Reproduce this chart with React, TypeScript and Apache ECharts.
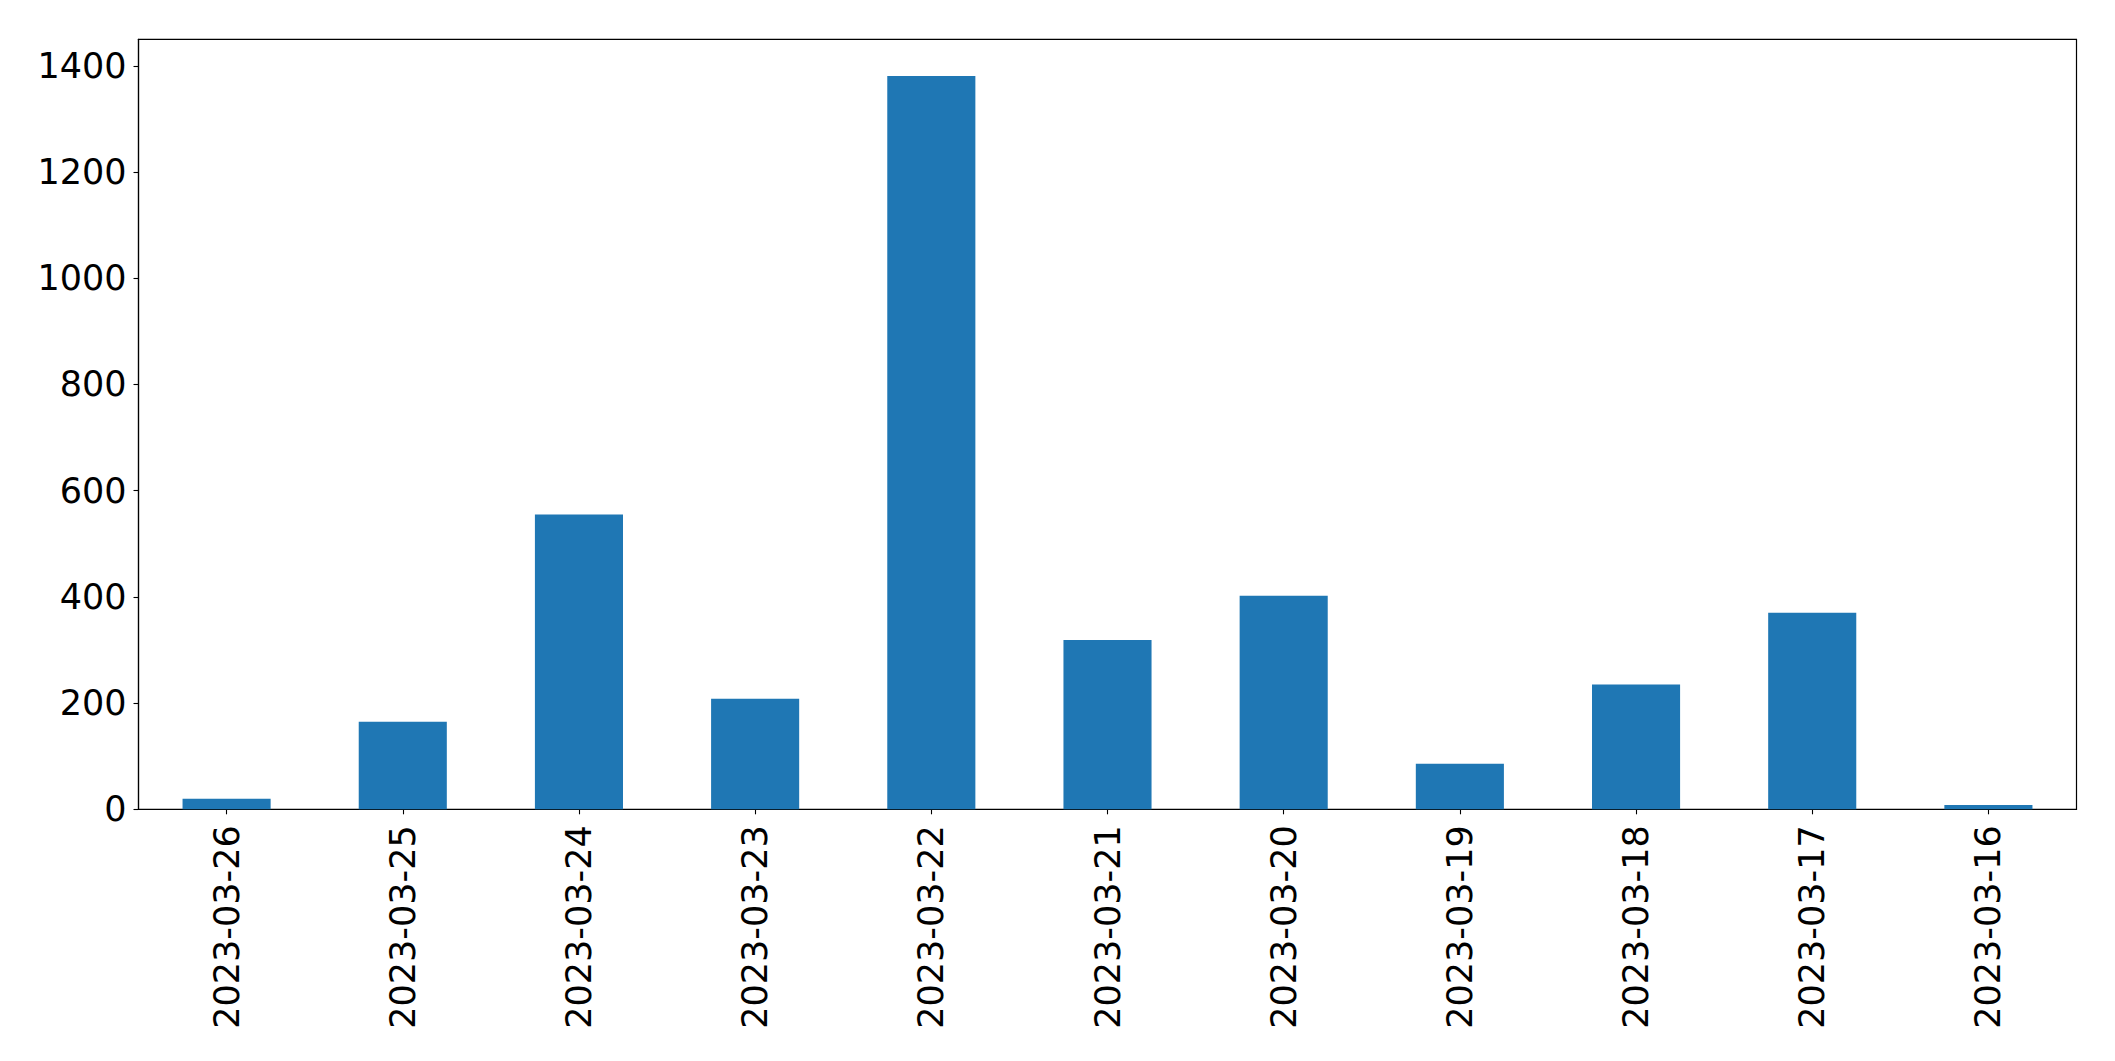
import React, { useEffect, useRef } from "react";
import * as echarts from "echarts";

const categories = [
  "2023-03-26", "2023-03-25", "2023-03-24", "2023-03-23", "2023-03-22",
  "2023-03-21", "2023-03-20", "2023-03-19", "2023-03-18", "2023-03-17", "2023-03-16",
];
const values = [20, 165, 555, 208, 1381, 319, 402, 86, 235, 370, 8];
const yMax = 1450;
const yInterval = 200;

export default function App() {
  const ref = useRef<HTMLDivElement>(null);
  useEffect(() => {
    if (!ref.current) return;
    const chart = echarts.init(ref.current, null, { renderer: "svg" });
    const font = "'DejaVu Sans', sans-serif";
    chart.setOption({
      animation: false,
      backgroundColor: "#ffffff",
      grid: {
        left: 138.5,
        top: 39.3,
        width: 1938,
        height: 770,
        show: true,
        borderColor: "#000000",
        borderWidth: 1.2,
        backgroundColor: "transparent",
        containLabel: false,
      },
      xAxis: {
        type: "category",
        data: categories,
        boundaryGap: true,
        axisLine: { show: true, lineStyle: { color: "#000000", width: 1.2 } },
        axisTick: { show: true, alignWithLabel: true, length: 5, lineStyle: { color: "#000000", width: 1.1 } },
        axisLabel: {
          rotate: 90,
          margin: 16,
          fontFamily: font,
          fontSize: 35,
          color: "#000000",
          interval: 0,
        },
        splitLine: { show: false },
      },
      yAxis: {
        type: "value",
        min: 0,
        max: yMax,
        interval: yInterval,
        axisLine: { show: true, lineStyle: { color: "#000000", width: 1.2 } },
        axisTick: { show: true, length: 5, lineStyle: { color: "#000000", width: 1.1 } },
        axisLabel: {
          margin: 12,
          fontFamily: font,
          fontSize: 35,
          color: "#000000",
          showMaxLabel: false,
          formatter: (v: number) => String(v),
        },
        splitLine: { show: false },
      },
      series: [
        {
          type: "bar",
          data: values,
          barWidth: "50%",
          itemStyle: { color: "#1f77b4" },
        },
      ],
    });
    return () => chart.dispose();
  }, []);
  return (
    <div
      ref={ref}
      style={{ position: "fixed", left: 0, top: 0, width: 2115, height: 1061, background: "#fff" }}
    />
  );
}
